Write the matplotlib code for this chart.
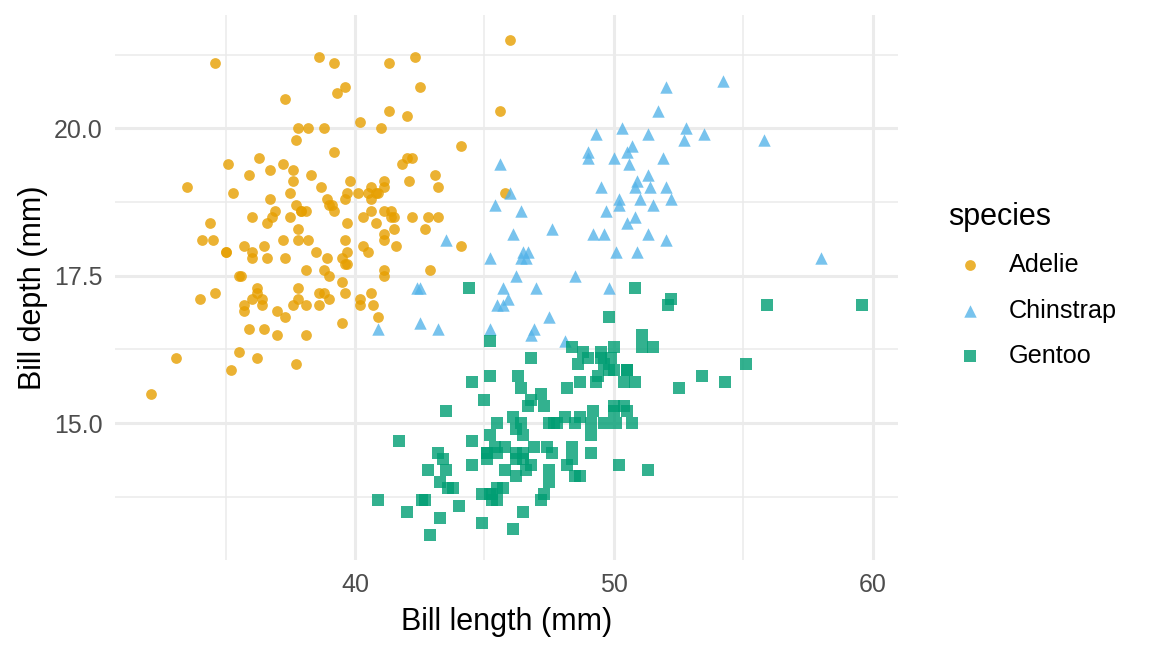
import numpy as np
import matplotlib.pyplot as plt

plt.rcParams['font.family'] = ['Liberation Sans', 'DejaVu Sans']

species = ['Adelie', 'Chinstrap', 'Gentoo']

adelie_len = [39.1, 39.5, 40.3, 36.7, 39.3, 38.9, 39.2, 34.1, 42.0, 37.8, 37.8, 41.1, 38.6, 34.6,
              36.6, 38.7, 42.5, 34.4, 46.0, 37.8, 37.7, 35.9, 38.2, 38.8, 35.3, 40.6, 40.5, 37.9,
              40.5, 39.5, 37.2, 39.5, 40.9, 36.4, 39.2, 38.8, 42.2, 37.6, 39.8, 36.5, 40.8, 36.0,
              44.1, 37.0, 39.6, 41.1, 37.5, 36.0, 42.3, 39.6, 40.1, 35.0, 42.0, 34.5, 41.4, 39.0,
              40.6, 36.5, 37.6, 35.7, 41.3, 37.6, 41.1, 36.4, 41.6, 35.5, 41.1, 35.9, 41.8, 33.5,
              39.7, 39.6, 45.8, 35.5, 42.8, 40.9, 37.2, 36.2, 42.1, 34.6, 42.9, 36.7, 35.1, 37.3,
              41.3, 36.3, 36.9, 38.3, 38.9, 35.7, 41.1, 34.0, 39.6, 36.2, 40.8, 38.1, 40.3, 33.1,
              43.2, 35.0, 41.0, 37.7, 37.8, 37.9, 39.7, 38.6, 38.2, 38.1, 43.2, 38.1, 45.6, 39.7,
              42.2, 39.6, 42.7, 38.6, 37.3, 35.7, 41.1, 36.2, 37.7, 40.2, 41.4, 35.2, 40.6, 38.8,
              41.5, 39.0, 44.1, 38.5, 43.1, 36.8, 37.5, 38.1, 41.1, 35.6, 40.2, 37.0, 39.7, 40.2,
              40.6, 32.1, 40.7, 37.3, 39.0, 39.2, 36.6, 36.0, 37.8, 36.0, 41.5]
adelie_dep = [18.7, 17.4, 18.0, 19.3, 20.6, 17.8, 19.6, 18.1, 20.2, 17.1, 17.3, 17.6, 21.2, 21.1,
              17.8, 19.0, 20.7, 18.4, 21.5, 18.3, 18.7, 19.2, 18.1, 17.2, 18.9, 18.6, 17.9, 18.6,
              18.9, 16.7, 18.1, 17.8, 18.9, 17.0, 21.1, 20.0, 18.5, 19.3, 19.1, 18.0, 18.4, 18.5,
              19.7, 16.9, 18.8, 19.0, 18.9, 17.9, 21.2, 17.7, 18.9, 17.9, 19.5, 18.1, 18.6, 17.5,
              18.8, 16.6, 19.1, 16.9, 21.1, 17.0, 18.2, 17.1, 18.0, 16.2, 19.1, 16.6, 19.4, 19.0,
              18.4, 17.2, 18.9, 17.5, 18.5, 16.8, 19.4, 16.1, 19.1, 17.2, 17.6, 18.8, 19.4, 17.8,
              20.3, 19.5, 18.6, 19.2, 18.8, 18.0, 18.1, 17.1, 18.1, 17.3, 18.9, 18.6, 18.5, 16.1,
              18.5, 17.9, 20.0, 16.0, 20.0, 18.6, 18.9, 17.2, 20.0, 17.0, 19.0, 16.5, 20.3, 17.7,
              19.5, 20.7, 18.3, 17.0, 20.5, 17.0, 18.6, 17.2, 19.8, 17.0, 18.5, 15.9, 19.0, 17.6,
              18.3, 17.1, 18.0, 17.9, 19.2, 18.5, 18.5, 17.6, 17.5, 17.5, 20.1, 16.5, 17.9, 17.1,
              17.2, 15.5, 17.0, 16.8, 18.7, 18.6, 18.4, 17.8, 18.1, 17.1, 18.5]

chinstrap_len = [46.5, 50.0, 51.3, 45.4, 52.7, 45.2, 46.1, 51.3, 46.0, 51.3, 46.6, 51.7, 47.0, 52.0,
                 45.9, 50.5, 50.3, 58.0, 46.4, 49.2, 42.4, 48.5, 43.2, 50.6, 46.7, 52.0, 50.5, 49.5,
                 46.4, 52.8, 40.9, 54.2, 42.5, 51.0, 49.7, 47.5, 47.6, 52.0, 46.9, 53.5, 49.0, 46.2,
                 50.9, 45.5, 50.9, 50.8, 50.1, 49.0, 51.5, 49.8, 48.1, 51.4, 45.7, 50.7, 42.5, 52.2,
                 45.2, 49.3, 50.2, 45.6, 51.9, 46.8, 45.7, 55.8, 43.5, 49.6, 50.8, 50.2]
chinstrap_dep = [17.9, 19.5, 19.2, 18.7, 19.8, 17.8, 18.2, 18.2, 18.9, 19.9, 17.8, 20.3, 17.3, 18.1,
                 17.1, 19.6, 20.0, 17.8, 18.6, 18.2, 17.3, 17.5, 16.6, 19.4, 17.9, 19.0, 18.4, 19.0,
                 17.8, 20.0, 16.6, 20.8, 16.7, 18.8, 18.6, 16.8, 18.3, 20.7, 16.6, 19.9, 19.5, 17.5,
                 19.1, 17.0, 17.9, 18.5, 17.9, 19.6, 18.7, 17.3, 16.4, 19.0, 17.3, 19.7, 17.3, 18.8,
                 16.6, 19.9, 18.8, 19.4, 19.5, 16.5, 17.0, 19.8, 18.1, 18.2, 19.0, 18.7]

gentoo_len = [46.1, 50.0, 48.7, 50.0, 47.6, 46.5, 45.4, 46.7, 43.3, 46.8, 40.9, 49.0, 45.5, 48.4,
              45.8, 49.3, 42.0, 49.2, 46.2, 48.7, 50.2, 45.1, 46.5, 46.3, 42.9, 46.1, 44.5, 47.8,
              48.2, 50.0, 47.3, 42.8, 45.1, 59.6, 49.1, 48.4, 42.6, 44.4, 44.0, 48.7, 42.7, 49.6,
              45.3, 49.6, 50.5, 43.6, 45.5, 50.5, 44.9, 45.2, 46.6, 48.5, 45.1, 50.1, 46.5, 45.0,
              43.8, 45.5, 43.2, 50.4, 45.3, 46.2, 45.7, 54.3, 45.8, 49.8, 46.2, 49.5, 43.5, 50.7,
              47.7, 46.4, 48.2, 46.5, 46.4, 48.6, 47.5, 51.1, 45.2, 45.2, 49.1, 52.5, 47.4, 50.0,
              44.9, 50.8, 43.4, 51.3, 47.5, 52.1, 47.5, 52.2, 45.5, 49.5, 44.5, 50.8, 49.4, 46.9,
              48.4, 51.1, 48.5, 55.9, 47.2, 49.1, 47.3, 46.8, 41.7, 53.4, 43.3, 48.1, 50.5, 49.8,
              43.5, 51.5, 46.2, 55.1, 44.5, 48.8, 47.2, 46.8, 50.4, 45.2, 49.9]
gentoo_dep = [13.2, 16.3, 14.1, 15.2, 14.5, 13.5, 14.6, 15.3, 13.4, 15.4, 13.7, 16.1, 13.7, 14.6,
              14.6, 15.7, 13.5, 15.2, 14.5, 15.1, 14.3, 14.5, 14.5, 15.8, 13.1, 15.1, 14.3, 15.0,
              14.3, 15.3, 15.3, 14.2, 14.5, 17.0, 14.8, 16.3, 13.7, 17.3, 13.6, 15.7, 13.7, 16.0,
              13.7, 15.0, 15.9, 13.9, 13.9, 15.9, 13.3, 15.8, 14.2, 14.1, 14.4, 15.0, 14.4, 15.4,
              13.9, 15.0, 14.5, 15.3, 13.8, 14.9, 13.9, 15.7, 14.2, 16.8, 14.4, 16.2, 14.2, 15.0,
              15.0, 15.6, 15.6, 14.8, 15.0, 16.0, 14.2, 16.3, 13.8, 16.4, 14.5, 15.6, 14.6, 15.9,
              13.8, 17.3, 14.4, 14.2, 14.0, 17.0, 15.0, 17.1, 14.5, 16.1, 14.7, 15.7, 15.8, 14.6,
              14.4, 16.5, 15.0, 17.0, 15.5, 15.0, 13.8, 16.1, 14.7, 15.8, 14.0, 15.1, 15.2, 15.9,
              15.2, 16.3, 14.1, 16.0, 15.7, 16.2, 13.7, 14.3, 15.7, 14.8, 16.1]

colors = ['#E69F00', '#56B4E9', '#009E73']
markers = ['o', '^', 's']
sizes = [60, 80, 70]

fig = plt.figure(figsize=(11.52, 6.52), dpi=100)
ax = fig.add_axes([0.0998, 0.141, 0.6797, 0.836])

data = [(adelie_len, adelie_dep), (chinstrap_len, chinstrap_dep), (gentoo_len, gentoo_dep)]
for name, (x, y), c, m, s in zip(species, data, colors, markers, sizes):
    ax.scatter(x, y, c=c, marker=m, s=s, alpha=0.8, linewidths=0, label=name, zorder=3)

ax.set_xlim(30.725, 60.975)
ax.set_ylim(12.68, 21.92)
ax.set_xticks([40, 50, 60])
ax.set_yticks([15.0, 17.5, 20.0])
ax.set_yticklabels(['15.0', '17.5', '20.0'])
ax.set_xticks([35, 45, 55], minor=True)
ax.set_yticks([13.75, 16.25, 18.75, 21.25], minor=True)
ax.grid(True, which='major', color='#EBEBEB', linewidth=2.2)
ax.grid(True, which='minor', color='#EBEBEB', linewidth=1.1)
ax.set_axisbelow(True)
for sp in ax.spines.values():
    sp.set_visible(False)
ax.tick_params(which='both', length=0)
ax.tick_params(axis='both', labelsize=18, labelcolor='#4D4D4D', pad=9)

ax.set_xlabel('Bill length (mm)', fontsize=22, labelpad=7.5)
ax.set_ylabel('Bill depth (mm)', fontsize=22, labelpad=4)

leg = ax.legend(title='species', loc='center left', bbox_to_anchor=(1.051, 0.505),
                frameon=False, fontsize=18.2, title_fontsize=22, labelspacing=0.85,
                handlelength=1.74, handletextpad=0.67, borderaxespad=0)
leg._legend_box.align = 'left'

fig.savefig('out.png', dpi=100)
